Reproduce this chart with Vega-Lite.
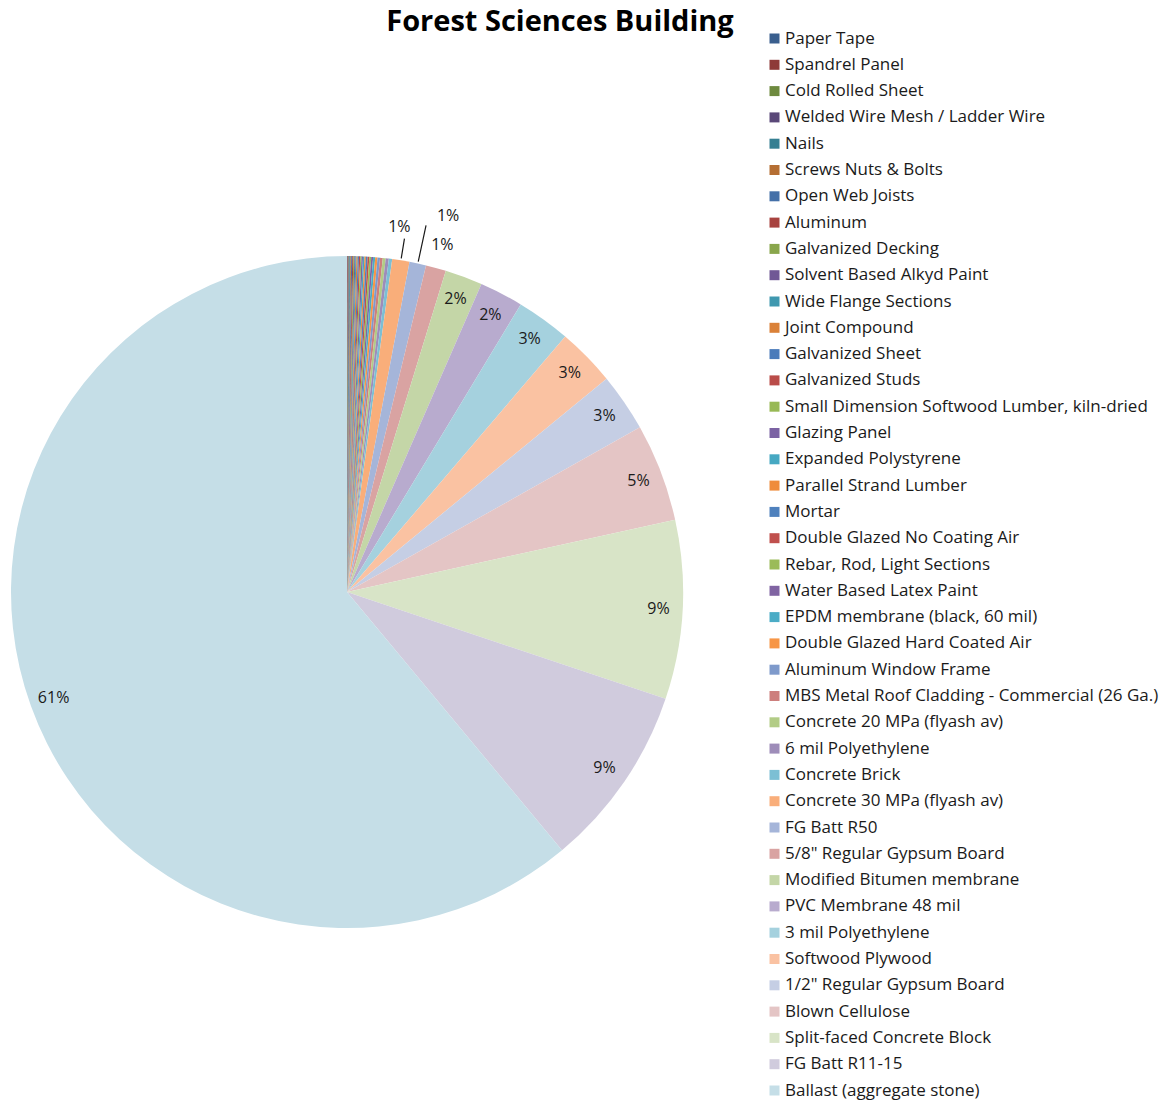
{
  "$schema": "https://vega.github.io/schema/vega-lite/v6.json",
  "autosize": "none",
  "width": 694,
  "height": 1022,
  "padding": {"left": 0, "top": 81, "right": 475, "bottom": 0},
  "background": "white",
  "title": {
    "text": "Forest Sciences Building",
    "font": "Open Sans",
    "fontSize": 29,
    "fontWeight": "bold",
    "color": "#000000",
    "anchor": "middle",
    "frame": "group",
    "dx": 213,
    "offset": -7
  },
  "data": {
    "values": [
      {"idx": 1, "material": "Paper Tape", "value": 0.0002},
      {"idx": 2, "material": "Spandrel Panel", "value": 0.0003},
      {"idx": 3, "material": "Cold Rolled Sheet", "value": 0.0003},
      {"idx": 4, "material": "Welded Wire Mesh / Ladder Wire", "value": 0.0004},
      {"idx": 5, "material": "Nails", "value": 0.0004},
      {"idx": 6, "material": "Screws Nuts & Bolts", "value": 0.0004},
      {"idx": 7, "material": "Open Web Joists", "value": 0.0005},
      {"idx": 8, "material": "Aluminum", "value": 0.0005},
      {"idx": 9, "material": "Galvanized Decking", "value": 0.0005},
      {"idx": 10, "material": "Solvent Based Alkyd Paint", "value": 0.0005},
      {"idx": 11, "material": "Wide Flange Sections", "value": 0.0005},
      {"idx": 12, "material": "Joint Compound", "value": 0.0006},
      {"idx": 13, "material": "Galvanized Sheet", "value": 0.0006},
      {"idx": 14, "material": "Galvanized Studs", "value": 0.0006},
      {"idx": 15, "material": "Small Dimension Softwood Lumber, kiln-dried", "value": 0.0006},
      {"idx": 16, "material": "Glazing Panel", "value": 0.0007},
      {"idx": 17, "material": "Expanded Polystyrene", "value": 0.0007},
      {"idx": 18, "material": "Parallel Strand Lumber", "value": 0.0007},
      {"idx": 19, "material": "Mortar", "value": 0.0008},
      {"idx": 20, "material": "Double Glazed No Coating Air", "value": 0.0008},
      {"idx": 21, "material": "Rebar, Rod, Light Sections", "value": 0.0009},
      {"idx": 22, "material": "Water Based Latex Paint", "value": 0.0009},
      {"idx": 23, "material": "EPDM membrane (black, 60 mil)", "value": 0.001},
      {"idx": 24, "material": "Double Glazed Hard Coated Air", "value": 0.0011},
      {"idx": 25, "material": "Aluminum Window Frame", "value": 0.0012},
      {"idx": 26, "material": "MBS Metal Roof Cladding - Commercial (26 Ga.)", "value": 0.0013},
      {"idx": 27, "material": "Concrete 20 MPa (flyash av)", "value": 0.0014},
      {"idx": 28, "material": "6 mil Polyethylene", "value": 0.0015},
      {"idx": 29, "material": "Concrete Brick", "value": 0.0016},
      {"idx": 30, "material": "Concrete 30 MPa (flyash av)", "value": 0.0083},
      {"idx": 31, "material": "FG Batt R50", "value": 0.008},
      {"idx": 32, "material": "5/8\" Regular Gypsum Board", "value": 0.0097},
      {"idx": 33, "material": "Modified Bitumen membrane", "value": 0.018},
      {"idx": 34, "material": "PVC Membrane 48 mil", "value": 0.021},
      {"idx": 35, "material": "3 mil Polyethylene", "value": 0.026},
      {"idx": 36, "material": "Softwood Plywood", "value": 0.028},
      {"idx": 37, "material": "1/2\" Regular Gypsum Board", "value": 0.028},
      {"idx": 38, "material": "Blown Cellulose", "value": 0.047},
      {"idx": 39, "material": "Split-faced Concrete Block", "value": 0.086},
      {"idx": 40, "material": "FG Batt R11-15", "value": 0.088},
      {"idx": 41, "material": "Ballast (aggregate stone)", "value": 0.6105}
    ]
  },
  "encoding": {
    "theta": {"field": "value", "type": "quantitative", "stack": true},
    "order": {"field": "idx", "type": "quantitative"}
  },
  "layer": [
    {
      "mark": {"type": "arc", "outerRadius": 336},
      "encoding": {
        "color": {
          "field": "material",
          "type": "nominal",
          "scale": {
            "domain": ["Paper Tape", "Spandrel Panel", "Cold Rolled Sheet", "Welded Wire Mesh / Ladder Wire", "Nails", "Screws Nuts & Bolts", "Open Web Joists", "Aluminum", "Galvanized Decking", "Solvent Based Alkyd Paint", "Wide Flange Sections", "Joint Compound", "Galvanized Sheet", "Galvanized Studs", "Small Dimension Softwood Lumber, kiln-dried", "Glazing Panel", "Expanded Polystyrene", "Parallel Strand Lumber", "Mortar", "Double Glazed No Coating Air", "Rebar, Rod, Light Sections", "Water Based Latex Paint", "EPDM membrane (black, 60 mil)", "Double Glazed Hard Coated Air", "Aluminum Window Frame", "MBS Metal Roof Cladding - Commercial (26 Ga.)", "Concrete 20 MPa (flyash av)", "6 mil Polyethylene", "Concrete Brick", "Concrete 30 MPa (flyash av)", "FG Batt R50", "5/8\" Regular Gypsum Board", "Modified Bitumen membrane", "PVC Membrane 48 mil", "3 mil Polyethylene", "Softwood Plywood", "1/2\" Regular Gypsum Board", "Blown Cellulose", "Split-faced Concrete Block", "FG Batt R11-15", "Ballast (aggregate stone)"],
            "range": ["#3A5F8E", "#8E3A38", "#6E8A3F", "#5A4878", "#357F92", "#B56E33", "#4470A8", "#A8423F", "#89A64C", "#705895", "#3F98AF", "#DA8138", "#4A7BBA", "#BA4C49", "#98B955", "#7B62A3", "#46A8C2", "#EF8C3C", "#4F81BD", "#C0504D", "#9BBB59", "#8064A2", "#4BACC6", "#F79646", "#7E9ACB", "#CD7F7D", "#B2CC86", "#9E8DB9", "#7CBFD4", "#F9AE7A", "#A5B5D9", "#D9A3A2", "#C4D6A7", "#B8ABCE", "#A5D1DE", "#FAC2A2", "#C5CEE4", "#E4C5C5", "#D8E4C7", "#D0CBDD", "#C5DEE7"]
          },
          "legend": {
            "orient": "none",
            "legendX": 766,
            "legendY": -51,
            "title": null,
            "symbolType": "square",
            "symbolSize": 100,
            "symbolStrokeWidth": 0,
            "symbolLimit": 0,
            "labelFont": "Open Sans",
            "labelFontSize": 17,
            "labelColor": "#1A1A1A",
            "labelLimit": 500,
            "labelOffset": 2,
            "rowPadding": 8.3,
            "padding": 0
          }
        }
      }
    },
    {
      "mark": {"type": "arc", "innerRadius": 338, "outerRadius": 358, "padAngle": 1.5, "fillOpacity": 0, "stroke": "#1A1A1A", "strokeWidth": 1.2},
      "encoding": {
        "strokeOpacity": {"condition": {"test": "datum.idx == 30", "value": 1}, "value": 0}
      }
    },
    {
      "mark": {"type": "arc", "innerRadius": 338, "outerRadius": 375, "padAngle": 1.5, "fillOpacity": 0, "stroke": "#1A1A1A", "strokeWidth": 1.2},
      "encoding": {
        "strokeOpacity": {"condition": {"test": "datum.idx == 31", "value": 1}, "value": 0}
      }
    },
    {
      "mark": {"type": "text", "radius": 312, "font": "Open Sans", "fontSize": 16, "color": "#1A1A1A"},
      "encoding": {
        "text": {"condition": {"test": "datum.value >= 0.015", "field": "value", "format": ".0%"}, "value": ""}
      }
    },
    {
      "mark": {"type": "text", "radius": 360, "font": "Open Sans", "fontSize": 16, "color": "#1A1A1A"},
      "encoding": {
        "text": {"condition": {"test": "datum.idx == 32", "field": "value", "format": ".0%"}, "value": ""}
      }
    },
    {
      "mark": {"type": "text", "radius": 370, "dx": -7, "font": "Open Sans", "fontSize": 16, "color": "#1A1A1A"},
      "encoding": {
        "text": {"condition": {"test": "datum.idx == 30", "field": "value", "format": ".0%"}, "value": ""}
      }
    },
    {
      "mark": {"type": "text", "radius": 385, "dx": 20, "font": "Open Sans", "fontSize": 16, "color": "#1A1A1A"},
      "encoding": {
        "text": {"condition": {"test": "datum.idx == 31", "field": "value", "format": ".0%"}, "value": ""}
      }
    }
  ]
}
